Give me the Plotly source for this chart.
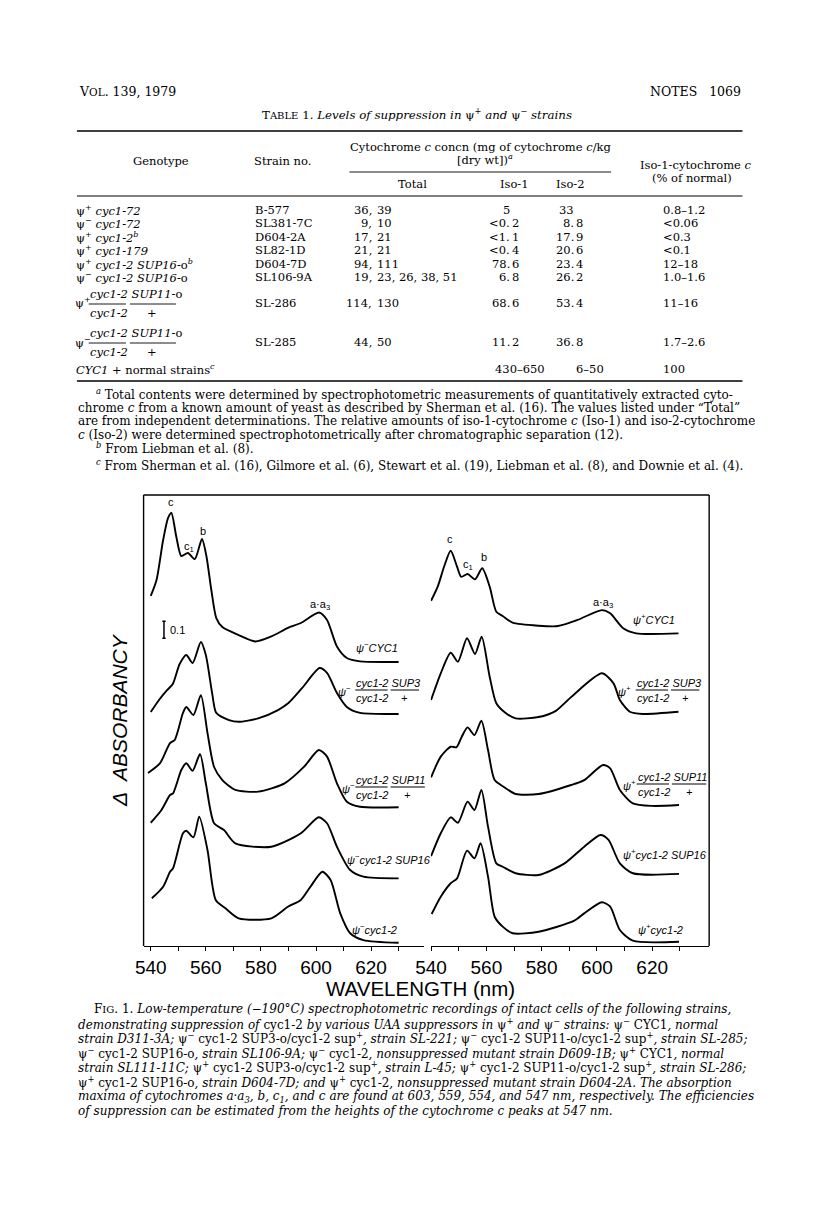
import plotly.graph_objects as go

# ======================= DATA =======================
# x-axis ticks (nm)
WL_TICKS = [540, 550, 560, 570, 580, 590, 600, 610, 620, 630]
WL_TICK_TEXT = ["540", "", "560", "", "580", "", "600", "", "620", ""]

# Left panel (psi-minus strains): wavelength (nm) and offset absorbance
L1_WL = [540, 542.1, 544.5, 546.3, 547.5, 549.3, 551.1, 553.5, 556, 558.6, 560.2, 562, 563.8, 566, 571.9, 577.9, 583.8, 589.8, 594.5, 601.1, 604, 607.6, 611.2, 616, 630]
L1_A = [2.059, 2.153, 2.388, 2.518, 2.547, 2.406, 2.294, 2.312, 2.276, 2.394, 2.294, 2.094, 1.929, 1.876, 1.829, 1.791, 1.821, 1.871, 1.9, 1.962, 1.918, 1.762, 1.694, 1.674, 1.671]
L2_WL = [540, 543, 546, 548, 550.5, 552.9, 555.2, 558.2, 560, 562.4, 563.8, 568.4, 571.9, 579, 586.2, 590, 595, 601.3, 604, 607.6, 611.2, 616, 630]
L2_A = [1.376, 1.447, 1.506, 1.541, 1.659, 1.712, 1.665, 1.788, 1.712, 1.476, 1.371, 1.329, 1.319, 1.339, 1.388, 1.429, 1.518, 1.635, 1.606, 1.488, 1.406, 1.371, 1.365]
L3_WL = [539, 543.4, 547, 548.7, 551.7, 552.9, 555.5, 558.2, 560.6, 563, 566, 570.7, 579, 588.6, 595.7, 601, 604, 607.6, 611.2, 616, 630]
L3_A = [1.018, 1.076, 1.194, 1.212, 1.371, 1.406, 1.359, 1.476, 1.253, 1.053, 0.976, 0.918, 0.908, 0.957, 1.055, 1.153, 1.114, 0.957, 0.849, 0.819, 0.816]
L4_WL = [540, 543.9, 547, 548.1, 551.1, 552.9, 555.2, 557.9, 560, 563, 566.6, 570.7, 583.8, 594.5, 601, 604, 607.6, 612.4, 617.2, 630]
L4_A = [0.725, 0.8, 0.888, 0.898, 1.035, 1.075, 1.031, 1.129, 0.957, 0.722, 0.682, 0.604, 0.584, 0.663, 0.757, 0.722, 0.584, 0.447, 0.408, 0.398]
L5_WL = [540.4, 544.5, 547, 548.1, 551.7, 552.9, 555.5, 557.6, 560.6, 563.6, 567.1, 571.9, 583.8, 589.8, 594.5, 598, 602.3, 605.3, 608.8, 612.4, 617.2, 630]
L5_A = [0.281, 0.349, 0.437, 0.457, 0.663, 0.678, 0.639, 0.761, 0.565, 0.271, 0.222, 0.163, 0.163, 0.231, 0.271, 0.349, 0.437, 0.388, 0.192, 0.075, 0.035, 0.019]

# Right panel (psi-plus strains)
R1_WL = [540, 542.4, 544.7, 547.1, 549.4, 550.9, 553.2, 555.9, 558.5, 561.2, 563.6, 565.9, 569.5, 578.9, 585.9, 593, 601.8, 604.8, 609.5, 614.2, 629.5]
R1_A = [2.031, 2.114, 2.231, 2.325, 2.231, 2.172, 2.188, 2.157, 2.222, 2.114, 1.966, 1.941, 1.902, 1.884, 1.882, 1.918, 1.976, 1.957, 1.869, 1.839, 1.839]
R2_WL = [540, 543.5, 547.1, 549.7, 553, 555.9, 558.3, 561.2, 563.6, 567.1, 570.6, 578.9, 585, 590.7, 601.8, 606, 608.3, 611.9, 616.6, 629.5]
R2_A = [1.447, 1.604, 1.725, 1.672, 1.81, 1.718, 1.819, 1.584, 1.428, 1.369, 1.339, 1.347, 1.382, 1.465, 1.604, 1.545, 1.447, 1.378, 1.365, 1.378]
R3_WL = [540, 543.5, 547.1, 549.2, 551.1, 553.2, 555.7, 558.2, 560.6, 563, 566.5, 570.6, 578.9, 590.7, 595.4, 602.2, 604.8, 608.3, 613, 620, 629.7]
R3_A = [0.992, 1.114, 1.172, 1.169, 1.231, 1.286, 1.241, 1.325, 1.153, 0.976, 0.934, 0.894, 0.894, 0.947, 0.976, 1.065, 1.045, 0.918, 0.839, 0.824, 0.829]
R4_WL = [540, 543.5, 547.1, 549.7, 553.2, 555.7, 558.2, 560.6, 563.6, 565.9, 570.6, 578.9, 588.3, 595.4, 601.3, 604.2, 608.3, 613, 629.7]
R4_A = [0.529, 0.663, 0.757, 0.725, 0.849, 0.8, 0.918, 0.702, 0.486, 0.466, 0.428, 0.418, 0.486, 0.584, 0.653, 0.624, 0.486, 0.428, 0.424]
R5_WL = [540.2, 543.5, 547.1, 549.4, 553, 555.7, 557.9, 560.6, 563, 565.9, 569.5, 578.9, 591.8, 595.4, 601.8, 604.8, 608.3, 613, 629.7]
R5_A = [0.188, 0.29, 0.369, 0.398, 0.561, 0.516, 0.604, 0.408, 0.172, 0.114, 0.075, 0.084, 0.149, 0.192, 0.257, 0.231, 0.094, 0.031, 0.025]

SCALE_BAR = 0.1  # absorbance units

# Table 1
GENOTYPES = [
    "ψ<sup>+</sup> <i>cyc1-72</i>",
    "ψ<sup>−</sup> <i>cyc1-72</i>",
    "ψ<sup>+</sup> <i>cyc1-2</i><sup><i>b</i></sup>",
    "ψ<sup>+</sup> <i>cyc1-179</i>",
    "ψ<sup>+</sup> <i>cyc1-2 SUP16-</i>o<sup><i>b</i></sup>",
    "ψ<sup>−</sup> <i>cyc1-2 SUP16-</i>o",
    None,
    None,
    "<i>CYC1</i> + normal strains<sup><i>c</i></sup>",
]
FRACTION_SIGN = [None, None, None, None, None, None, "+", "−", None]
STRAINS = ["B-577", "SL381-7C", "D604-2A", "SL82-1D", "D604-7D", "SL106-9A", "SL-286", "SL-285", ""]
TOTALS = ["36, 39", "9, 10", "17, 21", "21, 21", "94, 111", "19, 23, 26, 38, 51", "114, 130", "44, 50", ""]
ISO1 = ["5", "&lt;0.2", "&lt;1.1", "&lt;0.4", "78.6", "6.8", "68.6", "11.2", "430–650"]
ISO2 = ["33", "8.8", "17.9", "20.6", "23.4", "26.2", "53.4", "36.8", "6–50"]
PCT = ["0.8–1.2", "&lt;0.06", "&lt;0.3", "&lt;0.1", "12–18", "1.0–1.6", "11–16", "1.7–2.6", "100"]

FOOTNOTES = [
    "<sup><i>a</i></sup> Total contents were determined by spectrophotometric measurements of quantitatively extracted cyto-",
    "chrome <i>c</i> from a known amount of yeast as described by Sherman et al. (16). The values listed under “Total”",
    "are from independent determinations. The relative amounts of iso-1-cytochrome <i>c</i> (Iso-1) and iso-2-cytochrome",
    "<i>c</i> (Iso-2) were determined spectrophotometrically after chromatographic separation (12).",
    "<sup><i>b</i></sup> From Liebman et al. (8).",
    "<sup><i>c</i></sup> From Sherman et al. (16), Gilmore et al. (6), Stewart et al. (19), Liebman et al. (8), and Downie et al. (4).",
]

CAPTION = [
    "F<span style='font-size:10px'>IG</span>. 1. <i>Low-temperature (−190°C) spectrophotometric recordings of intact cells of the following strains,</i>",
    "<i>demonstrating suppression of </i>cyc1-2<i> by various UAA suppressors in </i>ψ<sup>+</sup><i> and </i>ψ<sup>−</sup><i> strains: </i>ψ<sup>−</sup> CYC1<i>, normal</i>",
    "<i>strain D311-3A; </i>ψ<sup>−</sup> cyc1-2 SUP3-o/cyc1-2 sup<sup>+</sup><i>, strain SL-221; </i>ψ<sup>−</sup> cyc1-2 SUP11-o/cyc1-2 sup<sup>+</sup><i>, strain SL-285;</i>",
    "ψ<sup>−</sup> cyc1-2 SUP16-o<i>, strain SL106-9A; </i>ψ<sup>−</sup> cyc1-2<i>, nonsuppressed mutant strain D609-1B; </i>ψ<sup>+</sup> CYC1<i>, normal</i>",
    "<i>strain SL111-11C; </i>ψ<sup>+</sup> cyc1-2 SUP3-o/cyc1-2 sup<sup>+</sup><i>, strain L-45; </i>ψ<sup>+</sup> cyc1-2 SUP11-o/cyc1-2 sup<sup>+</sup><i>, strain SL-286;</i>",
    "ψ<sup>+</sup> cyc1-2 SUP16-o<i>, strain D604-7D; and </i>ψ<sup>+</sup> cyc1-2<i>, nonsuppressed mutant strain D604-2A. The absorption</i>",
    "<i>maxima of cytochromes a·a<sub>3</sub>, b, c<sub>1</sub>, and c are found at 603, 559, 554, and 547 nm, respectively. The efficiencies</i>",
    "<i>of suppression can be estimated from the heights of the cytochrome c peaks at 547 nm.</i>",
]

# ======================= LAYOUT HELPERS =======================
# The page body has an 8 px margin; the figure is sized so page pixels map 1:1.
PAGE_W, PAGE_H = 816, 1218
OFF = 8
W, H = PAGE_W - OFF, PAGE_H - OFF
SERIF = "DejaVu Serif"
SANS = "Liberation Sans"
ann = []
shapes = []


def fx(x):
    return (x - OFF) / W


def fy(y):
    return 1 - (y - OFF) / H


def T(x, y, s, size=11.0, fam=SERIF, xa="left", ya="middle", angle=0):
    ann.append(dict(x=fx(x), y=fy(y), xref="paper", yref="paper", text=s, showarrow=False,
                    xanchor=xa, yanchor=ya, textangle=angle, borderpad=0,
                    font=dict(family=fam, size=size, color="black")))


def HL(x0, x1, y, w=1.2, color="black"):
    shapes.append(dict(type="line", xref="paper", yref="paper", x0=fx(x0), x1=fx(x1),
                       y0=fy(y), y1=fy(y), line=dict(color=color, width=w)))


def VL(x, y0, y1, w=1.3):
    shapes.append(dict(type="line", xref="paper", yref="paper", x0=fx(x), x1=fx(x),
                       y0=fy(y0), y1=fy(y1), line=dict(color="black", width=w)))


# ---------------- page header ----------------
T(63, 91, "V<span style='font-size:10.5px'>OL</span>. 139, 1979", 12.5)
T(741, 91, "NOTES&#160;&#160;&#160;1069", 12.5, xa="right")
T(409, 114, "T<span style='font-size:10px'>ABLE</span> 1. <i>Levels of suppression in </i>ψ<sup>+</sup><i> and </i>ψ<sup>−</sup><i> strains</i>", 11.8, xa="center")

# ---------------- table ----------------
TS = 11.5
HL(62, 741, 131, 1.4)
HL(62, 741, 196, 1.2)
HL(340, 607, 172, 0.9)
T(148, 161, "Genotype", TS, xa="center")
T(272, 161, "Strain no.", TS, xa="center")
T(474, 147, "Cytochrome <i>c</i> concn (mg of cytochrome <i>c</i>/kg", TS, xa="center")
T(478, 159, "[dry wt])<sup><i>a</i></sup>", TS, xa="center")
T(694, 165, "Iso-1-cytochrome <i>c</i>", TS, xa="center")
T(689, 178, "(% of normal)", TS, xa="center")
T(404, 184, "Total", TS, xa="center")
T(508, 184, "Iso-1", TS, xa="center")
T(566, 184, "Iso-2", TS, xa="center")

ROW_Y = [210, 223.5, 237, 250.5, 264, 277.5, 303, 342, 369]


def dec_cell(s, y, x_dot, x_center):
    if "–" in s:
        T(x_center, y, s, TS, xa="center")
    elif "." in s:
        a, b = s.split(".", 1)
        T(x_dot, y, a + ".", TS, xa="right")
        T(x_dot, y, b, TS, xa="left")
    else:
        T(x_dot, y, s, TS, xa="right")


for i, y in enumerate(ROW_Y):
    if FRACTION_SIGN[i] is None:
        T(60, y, GENOTYPES[i], TS)
    else:
        T(59, y, "ψ<sup>%s</sup>" % FRACTION_SIGN[i], TS)
        T(74, y - 9, "<i>cyc1-2 SUP11-</i>o", TS)
        HL(74, 112, y + 1, 0.9)
        HL(116, 163, y + 1, 0.9)
        T(74, y + 10, "<i>cyc1-2</i>", TS)
        T(139, y + 10, "+", TS, xa="center")
    if STRAINS[i]:
        T(243, y, STRAINS[i], TS)
    if TOTALS[i]:
        first, rest = TOTALS[i].split(", ", 1)
        T(364, y, first + ",", TS, xa="right")
        T(367, y, rest, TS)
    dec_cell(ISO1[i], y, 505, 514)
    dec_cell(ISO2[i], y, 570, 585)
    T(659, y, PCT[i], TS)

HL(62, 741, 381, 1.4)

# footnotes
FOOT_Y = [394, 407.5, 421, 434.5, 448, 465]
FOOT_X = [80, 62, 62, 62, 80, 80]
for s, x, y in zip(FOOTNOTES, FOOT_X, FOOT_Y):
    T(x, y, s, 12)

# ---------------- figure frame ----------------
HL(130, 707, 495, 1.4)
VL(130, 495, 946, 1.4)
VL(707, 495, 946, 1.4)

# ---------------- traces ----------------
fig = go.Figure()
LINE = dict(color="black", width=1.9, shape="spline", smoothing=0.7)
for wl, a in [(L1_WL, L1_A), (L2_WL, L2_A), (L3_WL, L3_A), (L4_WL, L4_A), (L5_WL, L5_A)]:
    fig.add_trace(go.Scatter(x=wl, y=a, mode="lines", line=LINE, xaxis="x", yaxis="y", hoverinfo="skip"))
for wl, a in [(R1_WL, R1_A), (R2_WL, R2_A), (R3_WL, R3_A), (R4_WL, R4_A), (R5_WL, R5_A)]:
    fig.add_trace(go.Scatter(x=wl, y=a, mode="lines", line=LINE, xaxis="x2", yaxis="y", hoverinfo="skip"))

# scale bar (0.1 absorbance) drawn in data units
SB_X, SB_Y0 = 544.8, 1.81
for x0, x1, y0, y1 in [(SB_X, SB_X, SB_Y0, SB_Y0 + SCALE_BAR),
                       (SB_X - 0.6, SB_X + 0.6, SB_Y0, SB_Y0),
                       (SB_X - 0.6, SB_X + 0.6, SB_Y0 + SCALE_BAR, SB_Y0 + SCALE_BAR)]:
    shapes.append(dict(type="line", xref="x", yref="y", x0=x0, x1=x1, y0=y0, y1=y1,
                       line=dict(color="black", width=1.5)))
T(156, 630, "0.1", 11, SANS)

# ---------------- chart labels ----------------
LS = 11
# peaks
for (x, y, s) in [(158, 502, "c"), (176, 547, "c<sub>1</sub>"), (191, 531, "b"), (310, 605, "a·a<sub>3</sub>"),
                  (443, 539, "c"), (461, 565, "c<sub>1</sub>"), (477, 557, "b"), (599, 603, "a·a<sub>3</sub>")]:
    T(x, y, s, LS, SANS, xa="center")

# strain labels
T(346, 647, "<i>ψ<sup>−</sup>CYC1</i>", LS, SANS)
T(337, 859, "<i>ψ<sup>−</sup>cyc1-2 SUP16</i>", LS, SANS)
T(342, 929, "<i>ψ<sup>−</sup>cyc1-2</i>", LS, SANS)
T(628, 619, "<i>ψ<sup>+</sup>CYC1</i>", LS, SANS)
T(618, 854, "<i>ψ<sup>+</sup>cyc1-2 SUP16</i>", LS, SANS)
T(633, 929, "<i>ψ<sup>+</sup>cyc1-2</i>", LS, SANS)


def frac_label(xpsi, xnum, y, sign, sup, sup_w):
    T(xpsi, y + 1, "<i>ψ<sup>%s</sup></i>" % sign, LS, SANS)
    T(xnum, y - 7, "<i>cyc1-2 %s</i>" % sup, LS, SANS)
    HL(xnum, xnum + 33, y, 1.0)
    HL(xnum + 36, xnum + 36 + sup_w, y, 1.0)
    T(xnum, y + 8, "<i>cyc1-2</i>", LS, SANS)
    T(xnum + 36 + sup_w / 2, y + 8, "<i>+</i>", LS, SANS, xa="center")


frac_label(327, 346, 690, "−", "SUP3", 29)
frac_label(331, 346, 787, "−", "SUP11", 35)
frac_label(613, 632, 690, "+", "SUP3", 29)
frac_label(618, 633, 784, "+", "SUP11", 35)

# axis titles
T(412, 988, "WAVELENGTH (nm)", 20.5, SANS, xa="center")
T(105, 720, "<i>Δ  ABSORBANCY</i>", 21, SANS, xa="center", angle=-90)

# ---------------- caption ----------------
CAP_Y = [1009, 1023.6, 1038.2, 1052.8, 1067.4, 1082, 1096.6, 1111.2]
for k, (s, y) in enumerate(zip(CAPTION, CAP_Y)):
    T(78 if k == 0 else 62, y, s, 12)

# ---------------- axes ----------------
PXN = 2.81
axis_common = dict(showline=True, linecolor="black", linewidth=1.4, ticks="outside", ticklen=4,
                   tickwidth=1.3, tickcolor="black", tickvals=WL_TICKS, ticktext=WL_TICK_TEXT,
                   showgrid=False, zeroline=False, anchor="y",
                   tickfont=dict(family=SANS, size=19, color="black"))
fig.update_layout(
    width=W, height=H, margin=dict(l=0, r=0, t=0, b=0),
    paper_bgcolor="white", plot_bgcolor="white", showlegend=False,
    xaxis=dict(domain=[fx(130), fx(416)], range=[540 - 7.3 / PXN, 540 + (416 - 137.3) / PXN], **axis_common),
    xaxis2=dict(domain=[fx(423), fx(707)], range=[540 - 0.3 / 2.82, 540 + (707 - 423.3) / 2.82], **axis_common),
    yaxis=dict(domain=[fy(946), fy(495)], range=[0, 451 / 170], visible=False),
    annotations=ann, shapes=shapes,
)

fig.write_html("out.html")
